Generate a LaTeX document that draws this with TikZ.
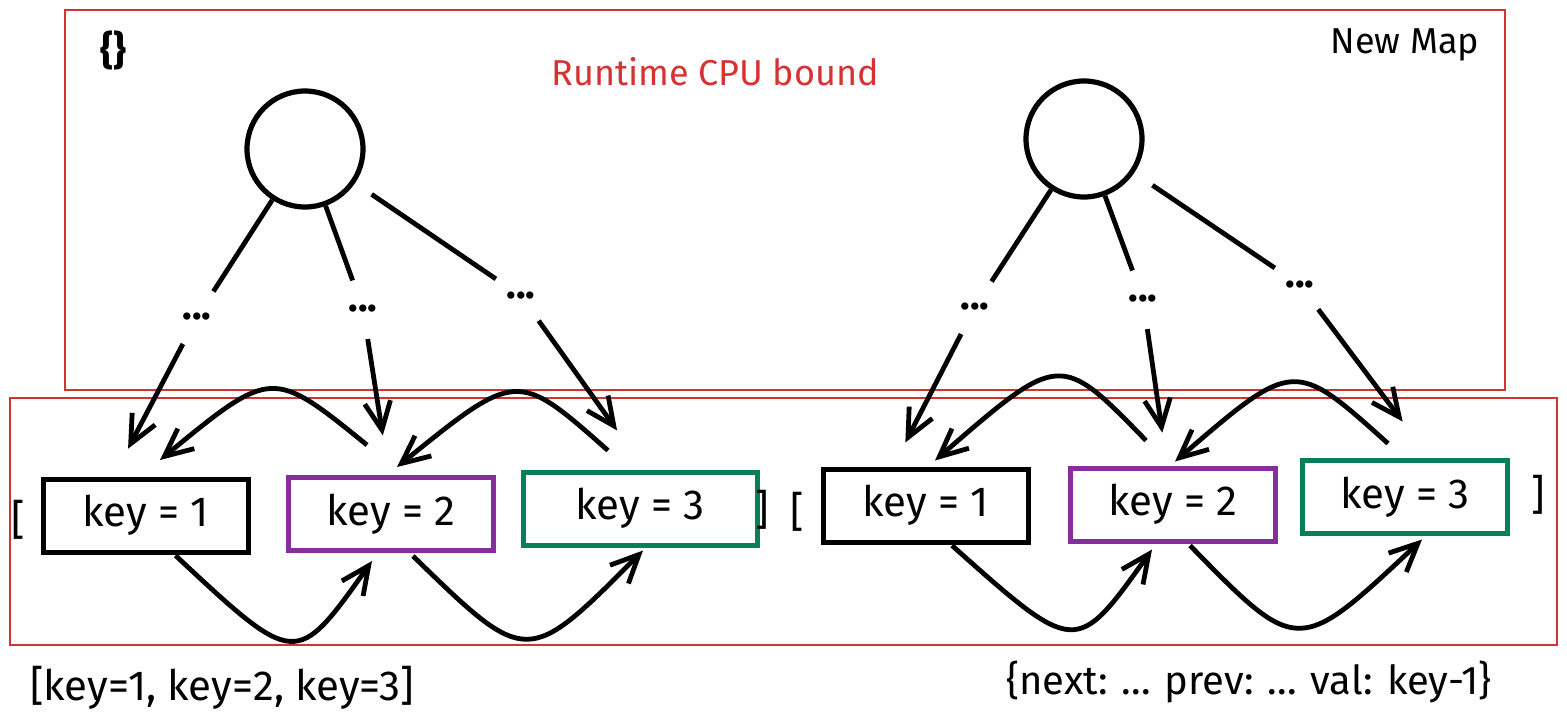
\documentclass[tikz,border=0pt]{standalone}
\usepackage{fontspec}
\setmainfont{Fira Sans}
\usetikzlibrary{arrows.meta}
\usetikzlibrary{positioning}
\usetikzlibrary{calc}

\definecolor{mapred}{HTML}{D63232}
\definecolor{keypurple}{HTML}{862E9C}
\definecolor{keygreen}{HTML}{087F5B}

\begin{document}
\begin{tikzpicture}[x=0.5pt, y=-0.5pt,
    every node/.style={font=\fontsize{18}{22}\selectfont},
    keybox/.style={draw, line width=2.5pt, minimum width=102.5pt, minimum height=36.5pt, inner sep=0pt, font=\fontsize{21}{24}\selectfont},
    root/.style={draw, circle, line width=2.6pt, minimum size=58pt, inner sep=0pt},
    dotnode/.style={circle, minimum size=30pt, inner sep=0pt, font=\fontsize{20}{22}\selectfont\bfseries},
    link/.style={line width=2.4pt},
    arr/.style={line width=2.4pt, -{Straight Barb[length=14pt,width=13pt]}},
    region/.style={draw=mapred, line width=0.8pt}]
      \useasboundingbox (0,0) rectangle (1567,724);
      \draw [region] (65,10) rectangle (1505,390);
      \draw [region] (10,398) rectangle (1557,645);

      \node [font=\fontsize{20}{22}\selectfont\bfseries] (empty) at (113,50) {\{\}};
      \node (newmap) at (1405,45) {New Map};
      \node [text=mapred] (title) at (715,72) {Runtime CPU bound};

      % object: hash tree
      \node [root] (r1) at (305,149) {};
      \node [dotnode] (d11) at (197,317) {...};
      \node [dotnode] (d12) at (363,309) {...};
      \node [dotnode] (d13) at (521,296) {...};
      \draw [link] (r1) -- (d11);
      \draw [link] (r1) -- (d12);
      \draw [link, shorten <=10pt] (r1) -- (d13);

      \node [font=\fontsize{21}{24}\selectfont] (lb1) at (18,520) {[};
      \node [keybox] (k11) at (145.5,515.5) {key = 1};
      \node [keybox, draw=keypurple] (k12) at (391,514) {key = 2};
      \node [keybox, draw=keygreen, minimum width=117pt] (k13) at (640,508.5) {key = 3};
      \node [font=\fontsize{21}{24}\selectfont] (rb1) at (762,510) {]};

      \draw [arr, shorten >=15.7pt] (d11) -- ($(k11.north)+(-32,0)$);
      \draw [arr, shorten >=20pt] (d12) -- ($(k12.north)+(-2,0)$);
      \draw [arr, shorten >=24pt] (d13) -- ($(k13.north)+(5,0)$);

      \draw [arr] ($(k12.north)+(-24,-30)$) .. controls (272,368) .. ($(k11.north)+(14.5,-16.5)$);
      \draw [arr] ($(k13.north)+(-32,-19)$) .. controls (517,370) .. ($(k12.north)+(6,-8)$);
      \draw [arr] ($(k11.south)+(30,1)$) .. controls (296,668) .. ($(k12.south)+(-19,8)$);
      \draw [arr] ($(k12.south)+(22,3)$) .. controls (527,667) .. ($(k13.south)+(3,3)$);

      % new map
      \node [root] (r2) at (1084,139) {};
      \node [dotnode] (d21) at (975,307) {...};
      \node [dotnode] (d22) at (1143,299) {...};
      \node [dotnode] (d23) at (1300,285) {...};
      \draw [link] (r2) -- (d21);
      \draw [link] (r2) -- (d22);
      \draw [link, shorten <=11pt] (r2) -- (d23);

      \node [font=\fontsize{21}{24}\selectfont] (lb2) at (797,512) {[};
      \node [keybox] (k21) at (925.5,505.5) {key = 1};
      \node [keybox, draw=keypurple] (k22) at (1173,504.5) {key = 2};
      \node [keybox, draw=keygreen] (k23) at (1405,497) {key = 3};
      \node [font=\fontsize{21}{24}\selectfont] (rb2) at (1538,495) {]};

      \draw [arr, shorten >=13.5pt] (d21) -- ($(k21.north)+(-32.5,0)$);
      \draw [arr, shorten >=16.6pt] (d22) -- ($(k22.north)+(-6,0)$);
      \draw [arr, shorten >=22.8pt] (d23) -- ($(k23.north)+(25,0)$);

      \draw [arr] ($(k22.north)+(-27,-25)$) .. controls (1060,352) .. ($(k21.north)+(9.5,-6)$);
      \draw [arr] ($(k23.north)+(-17,-14.5)$) .. controls (1294,359) .. ($(k22.north)+(2,-4)$);
      \draw [arr] ($(k21.south)+(26.5,1)$) .. controls (1076,656) .. ($(k22.south)+(-21,6)$);
      \draw [arr] ($(k22.south)+(17,2)$) .. controls (1298,656) .. ($(k23.south)+(17,3.5)$);

      \node [font=\fontsize{21}{24}\selectfont] (arrtext) at (222,688) {[key=1, key=2, key=3]};
      \node [font=\fontsize{20}{24}\selectfont] (maptext) at (1249,682) {\{next: ... prev: ... val: key-1\}};
\end{tikzpicture}
\end{document}
